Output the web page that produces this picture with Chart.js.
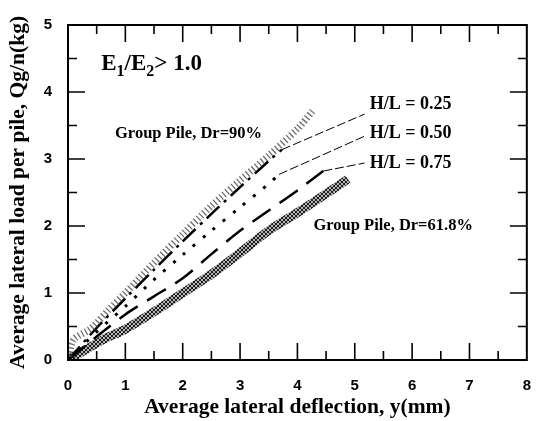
<!DOCTYPE html>
<html>
<head>
<meta charset="utf-8">
<script src="https://cdn.jsdelivr.net/npm/chart.js@4.4.1/dist/chart.umd.min.js"></script>
<style>
  html, body { margin: 0; padding: 0; background: #fff; }
</style>
</head>
<body>
<canvas id="pileChart" width="548" height="421"></canvas>
<script>
// deflection y (mm) vs average lateral load per pile (kg)
const dr90X = [0, 0.1, 0.4, 0.7, 1.0, 1.5, 2.0, 2.5, 3.0, 3.5, 4.0, 4.29];
const dr90Y = [0, 0.3, 0.47, 0.74, 1.0, 1.45, 1.88, 2.3, 2.68, 3.05, 3.45, 3.74];

const hl25X = [0, 0.5, 1.0, 1.5, 2.0, 2.5, 3.0, 3.5, 3.73];
const hl25Y = [0, 0.48, 0.92, 1.35, 1.77, 2.18, 2.58, 2.97, 3.14];

const hl50X = [0, 0.5, 1.0, 1.5, 2.0, 2.5, 3.0, 3.5, 3.68];
const hl50Y = [0, 0.42, 0.8, 1.2, 1.57, 1.93, 2.28, 2.63, 2.77];

const hl75X = [0, 0.5, 1.0, 1.5, 2.0, 2.5, 3.0, 3.5, 4.0, 4.45];
const hl75Y = [0, 0.35, 0.68, 0.95, 1.22, 1.58, 1.93, 2.23, 2.53, 2.82];

const dr62X = [0, 0.3, 0.6, 1.0, 1.5, 2.0, 2.5, 3.0, 3.5, 4.0, 4.5, 4.88];
const dr62Y = [0, 0.15, 0.3, 0.46, 0.72, 1.0, 1.28, 1.6, 1.93, 2.2, 2.48, 2.7];

// where the thin leader lines meet the H/L labels
const leaderX = [5.17, 5.17, 5.17];
const leaderY = [3.67, 3.34, 2.94];

const xTicks = [0, 1, 2, 3, 4, 5, 6, 7, 8];
const yTicks = [0, 1, 2, 3, 4, 5];

function pts(xs, ys) {
    return xs.map((x, i) => ({ x: x, y: ys[i] }));
}

function lastPt(xs, ys) {
    return { x: xs[xs.length - 1], y: ys[ys.length - 1] };
}

function crossHatch() {
    const c = document.createElement('canvas');
    c.width = 4;
    c.height = 4;
    const g = c.getContext('2d');
    g.fillStyle = '#b4b4b4';
    g.fillRect(0, 0, 4, 4);
    g.strokeStyle = '#1e1e1e';
    g.lineWidth = 1;
    g.beginPath();
    g.moveTo(0, 0); g.lineTo(4, 4);
    g.moveTo(4, 0); g.lineTo(0, 4);
    g.stroke();
    return g.createPattern(c, 'repeat');
}

const serif = '"Liberation Serif", "Times New Roman", serif';
const sans = '"Liberation Sans", Arial, sans-serif';

// text placed in data units
const notes = [
    { text: 'Group Pile, Dr=90%', x: 0.82, y: 3.38, size: 16.5 },
    { text: 'Group Pile, Dr=61.8%', x: 4.28, y: 2.0, size: 16.5 },
    { text: 'H/L = 0.25', x: 5.26, y: 3.81, size: 18 },
    { text: 'H/L = 0.50', x: 5.26, y: 3.38, size: 18 },
    { text: 'H/L = 0.75', x: 5.26, y: 2.94, size: 18 }
];

const notesPlugin = {
    id: 'notes',
    afterDraw(chart) {
        const ctx = chart.ctx;
        const xs = chart.scales.x, ys = chart.scales.y;
        ctx.save();
        ctx.fillStyle = '#000';
        ctx.textBaseline = 'middle';
        ctx.textAlign = 'left';
        notes.forEach(n => {
            ctx.font = 'bold ' + n.size + 'px ' + serif;
            ctx.fillText(n.text, xs.getPixelForValue(n.x), ys.getPixelForValue(n.y));
        });

        // E1/E2 > 1.0 with subscripts
        let px = xs.getPixelForValue(0.58);
        const py = ys.getPixelForValue(4.42);
        const parts = [['E', false], ['1', true], ['/E', false], ['2', true], ['> 1.0', false]];
        parts.forEach(p => {
            ctx.font = p[1] ? 'bold 16px ' + serif : 'bold 23px ' + serif;
            ctx.fillText(p[0], px, p[1] ? py + 8 : py);
            px += ctx.measureText(p[0]).width;
        });
        ctx.restore();
    }
};

// box frame with inward ticks on all four sides
const framePlugin = {
    id: 'frame',
    afterDatasetsDraw(chart) {
        const ctx = chart.ctx;
        const a = chart.chartArea;
        const xs = chart.scales.x, ys = chart.scales.y;
        ctx.save();
        ctx.strokeStyle = '#000';
        ctx.lineWidth = 2;
        ctx.strokeRect(a.left, a.top, a.right - a.left, a.bottom - a.top);
        ctx.lineWidth = 1.6;
        ctx.beginPath();
        for (let v = 0.5; v < 8; v += 0.5) {
            const len = v % 1 === 0 ? 17 : 9;
            const p = xs.getPixelForValue(v);
            ctx.moveTo(p, a.bottom); ctx.lineTo(p, a.bottom - len);
            ctx.moveTo(p, a.top); ctx.lineTo(p, a.top + len);
        }
        for (let v = 0.5; v < 5; v += 0.5) {
            const len = v % 1 === 0 ? 17 : 9;
            const p = ys.getPixelForValue(v);
            ctx.moveTo(a.left, p); ctx.lineTo(a.left + len, p);
            ctx.moveTo(a.right, p); ctx.lineTo(a.right - len, p);
        }
        ctx.stroke();
        ctx.restore();
    }
};

function leader(i, xs, ys) {
    return {
        data: [lastPt(xs, ys), { x: leaderX[i], y: leaderY[i] }],
        borderColor: '#000',
        borderWidth: 1,
        borderDash: [9, 3],
        pointRadius: 0
    };
}

const canvas = document.getElementById('pileChart');
new Chart(canvas, {
    type: 'line',
    data: {
        datasets: [
            {
                label: 'Group Pile, Dr=90%',
                data: pts(dr90X, dr90Y),
                borderColor: 'rgba(70, 70, 70, 0.8)',
                borderWidth: 7,
                borderDash: [1.3, 2.6],
                borderCapStyle: 'butt',
                pointRadius: 0,
                tension: 0.3
            },
            {
                label: 'H/L = 0.25',
                data: pts(hl25X, hl25Y),
                borderColor: '#000',
                borderWidth: 2.5,
                borderDash: [18, 6, 3, 6],
                pointRadius: 0,
                tension: 0.3
            },
            {
                label: 'H/L = 0.50',
                data: pts(hl50X, hl50Y),
                borderColor: '#000',
                borderWidth: 3,
                borderDash: [3, 10],
                pointRadius: 0,
                tension: 0.3
            },
            {
                label: 'H/L = 0.75',
                data: pts(hl75X, hl75Y),
                borderColor: '#000',
                borderWidth: 2.5,
                borderDash: [22, 11],
                pointRadius: 0,
                tension: 0.3
            },
            {
                label: 'Group Pile, Dr=61.8%',
                data: pts(dr62X, dr62Y),
                borderColor: crossHatch(),
                borderWidth: 9,
                pointRadius: 0,
                tension: 0.3
            },
            leader(0, hl25X, hl25Y),
            leader(1, hl50X, hl50Y),
            leader(2, hl75X, hl75Y)
        ]
    },
    options: {
        responsive: false,
        animation: false,
        devicePixelRatio: 1,
        layout: { padding: { top: 15, right: 13, left: 0, bottom: 0 } },
        plugins: {
            legend: { display: false },
            tooltip: { enabled: false }
        },
        scales: {
            x: {
                type: 'linear',
                min: 0,
                max: 8,
                afterBuildTicks: s => { s.ticks = xTicks.map(v => ({ value: v })); },
                afterFit: s => { s.height = 61; },
                grid: { display: false, drawTicks: false },
                border: { display: false },
                ticks: {
                    color: '#000',
                    padding: 17,
                    font: { family: sans, size: 15, weight: 'bold' }
                },
                title: {
                    display: true,
                    text: 'Average lateral deflection, y(mm)',
                    color: '#000',
                    padding: { top: 0, bottom: 1 },
                    font: { family: serif, size: 21.5, weight: 'bold' }
                }
            },
            y: {
                type: 'linear',
                min: 0,
                max: 5,
                afterBuildTicks: s => { s.ticks = yTicks.map(v => ({ value: v })); },
                afterFit: s => { s.width = 68; },
                grid: { display: false, drawTicks: false },
                border: { display: false },
                ticks: {
                    color: '#000',
                    padding: 16,
                    font: { family: sans, size: 15, weight: 'bold' }
                },
                title: {
                    display: true,
                    text: 'Average lateral load per pile, Qg/n(kg)',
                    color: '#000',
                    padding: { top: 6, bottom: 0 },
                    font: { family: serif, size: 21.5, weight: 'bold' }
                }
            }
        }
    },
    plugins: [framePlugin, notesPlugin]
});
</script>
</body>
</html>
